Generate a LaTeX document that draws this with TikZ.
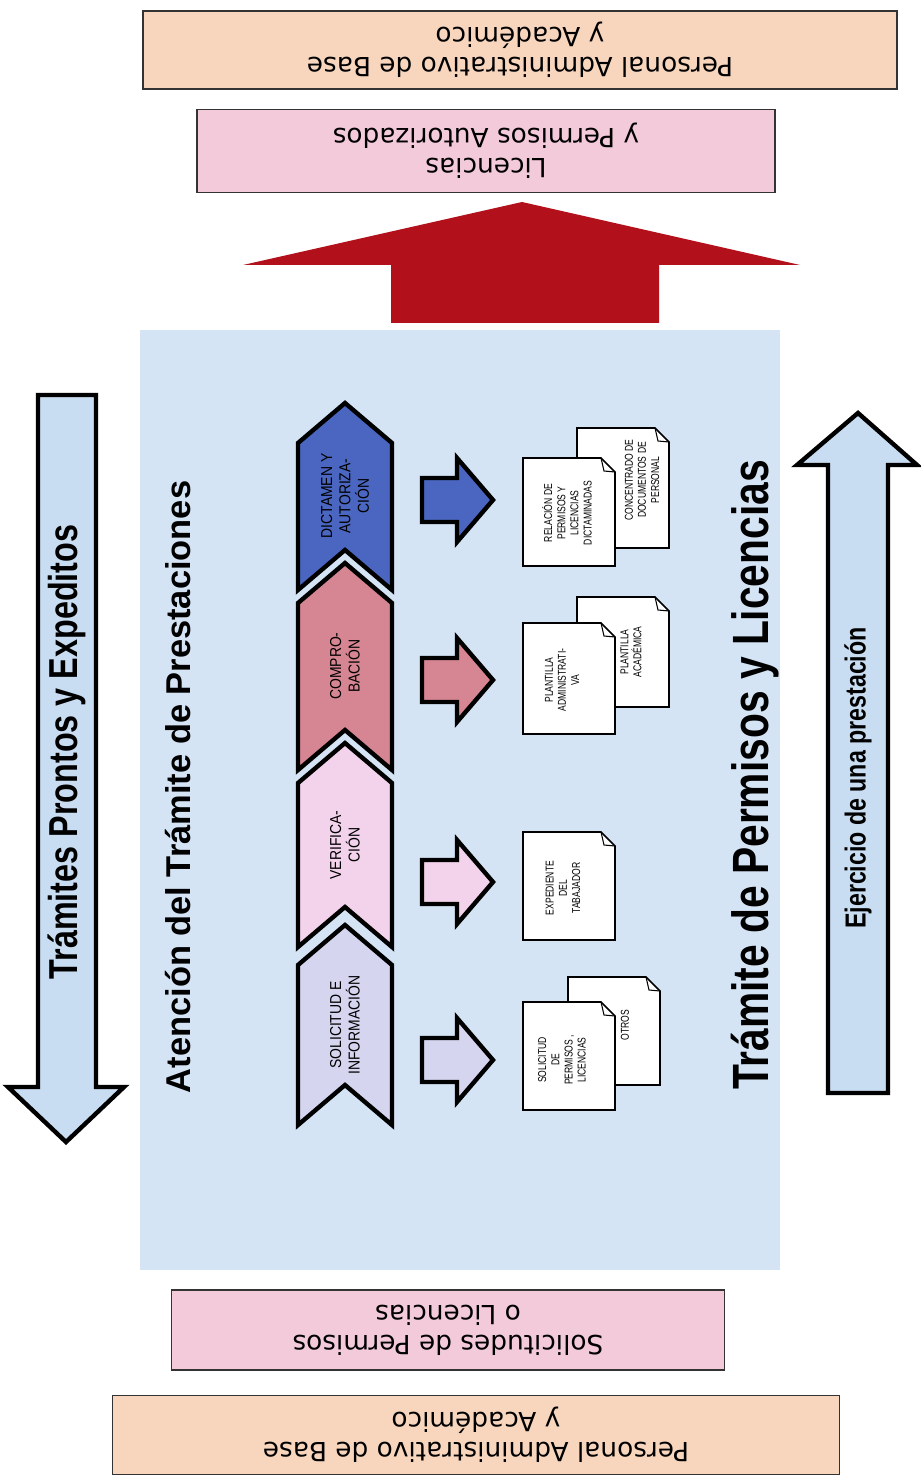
\documentclass[tikz,border=0pt]{standalone}
\usepackage{fontspec}
\setmainfont{Liberation Sans}
\newfontfamily\boxfont{DejaVu Sans}
\newfontfamily\narrowfont[FakeStretch=0.8]{Liberation Sans}
\newfontfamily\chevfont[FakeStretch=0.88]{Liberation Sans}
\newfontfamily\docfont[FakeStretch=0.75]{Liberation Sans}
\usepackage{tikz}
\usetikzlibrary {positioning}

\definecolor{peach}{RGB}{248,214,190}
\definecolor{rosebox}{RGB}{243,202,217}
\definecolor{panelblue}{RGB}{212,228,245}
\definecolor{arrowblue}{RGB}{200,221,242}
\definecolor{darkred}{RGB}{178,16,26}
\definecolor{dictblue}{RGB}{74,102,192}
\definecolor{comprose}{RGB}{214,133,147}
\definecolor{verifpink}{RGB}{243,210,235}
\definecolor{soliclav}{RGB}{214,213,240}

\tikzset{
	box/.style={draw=black!80,line width=0.8pt,align=center,rotate=180,
		font=\boxfont\fontsize{15}{17}\selectfont},
	chev/.style={draw=black,line width=2.5pt},
	blockarrow/.style={draw=black,line width=2.5pt},
	sidearrow/.style={draw=black,line width=2.5pt,fill=arrowblue},
	page/.style={draw=black,line width=0.9pt,fill=white},
	fold/.style={draw=black,line width=0.6pt},
	chevtext/.style={rotate=90,align=center,inner sep=0pt,
		font=\chevfont\fontsize{9}{10.5}\selectfont},
	doctext/.style={rotate=90,align=center,inner sep=0pt,
		font=\docfont\fontsize{6.5}{7.5}\selectfont},
}

\begin{document}
\begin{tikzpicture}[x=0.02cm,y=-0.02cm]
	
	\useasboundingbox (0,0) rectangle (920,1479);
	\fill[white] (0,0) rectangle (920,1479);
	
	% boxes at top and bottom
	\node[box,fill=peach,minimum width=15.08cm,minimum height=1.56cm] (perstop) at (520,50) {Personal Administrativo de Base\\y Académico};
	\node[box,fill=rosebox,minimum width=11.56cm,minimum height=1.66cm] (licaut) at (486,151) {Licencias\\y Permisos Autorizados};
	\node[box,fill=rosebox,minimum width=11.06cm,minimum height=1.6cm] (solper) at (448,1330) {Solicitudes de Permisos\\o Licencias};
	\node[box,fill=peach,minimum width=14.54cm,minimum height=1.58cm] (persbot) at (476,1435) {Personal Administrativo de Base\\y Académico};
	
	\fill[darkred] (391,323) -- (391,265) -- (243,265) -- (522,202) -- (800,265) -- (659,265) -- (659,323) -- cycle;
	
	\fill[panelblue] (140,330) rectangle (780,1270);
	
	% side arrows
	\path[sidearrow] (38,395) -- (96,395) -- (96,1087) -- (124,1087) -- (66,1142) -- (8,1087) -- (38,1087) -- cycle;
	\path[sidearrow] (828,1093) -- (828,465) -- (797,465) -- (858,413) -- (917,465) -- (888,465) -- (888,1093) -- cycle;
	\node[rotate=90,font=\narrowfont\bfseries\fontsize{23}{26}\selectfont] (prontos) at (67,752) {Trámites Prontos y Expeditos};
	\node[rotate=90,font=\narrowfont\bfseries\fontsize{16.5}{19}\selectfont] (ejercicio) at (858,778) {Ejercicio de una prestación};
	
	% titles
	\node[rotate=90,font=\bfseries\fontsize{19.6}{22}\selectfont] (atencion) at (178,787) {Atención del Trámite de Prestaciones};
	\node[rotate=90,font=\narrowfont\bfseries\fontsize{29}{32}\selectfont] (tramite) at (755,775) {Trámite de Permisos y Licencias};
	
	% chevrons
	\path[chev,fill=dictblue] (345,403) -- (392,443) -- (392,590) -- (345,550) -- (298,590) -- (298,443) -- cycle;
	\path[chev,fill=comprose] (345,563) -- (392,603) -- (392,770) -- (345,730) -- (298,770) -- (298,603) -- cycle;
	\path[chev,fill=verifpink] (345,743) -- (392,783) -- (392,947) -- (345,907) -- (298,947) -- (298,783) -- cycle;
	\path[chev,fill=soliclav] (345,925) -- (392,965) -- (392,1125) -- (345,1085) -- (298,1125) -- (298,965) -- cycle;
	
	\node[chevtext] (dictamen) at (345,496) {DICTAMEN Y\\AUTORIZA-\\CIÓN};
	\node[chevtext] (comprob) at (345,666) {COMPRO-\\BACIÓN};
	\node[chevtext] (verif) at (345,845) {VERIFICA-\\CIÓN};
	\node[chevtext] (solic) at (345,1025) {SOLICITUD E\\INFORMACIÓN};
	
	% block arrows
	\path[blockarrow,fill=dictblue] (422,478) -- (457,478) -- (457,458) -- (493,500) -- (457,542) -- (457,522) -- (422,522) -- cycle;
	\path[blockarrow,fill=comprose] (422,658) -- (457,658) -- (457,638) -- (493,680) -- (457,722) -- (457,702) -- (422,702) -- cycle;
	\path[blockarrow,fill=verifpink] (422,860) -- (457,860) -- (457,840) -- (493,882) -- (457,924) -- (457,904) -- (422,904) -- cycle;
	\path[blockarrow,fill=soliclav] (422,1038) -- (457,1038) -- (457,1018) -- (493,1060) -- (457,1102) -- (457,1082) -- (422,1082) -- cycle;
	
	% pages
	\path[page] (577,428) -- (655,428) -- (669,442) -- (669,548) -- (577,548) -- cycle;
	\path[fold] (655,428) -- (658,441) -- (669,442);
	\path[page] (523,458) -- (601,458) -- (615,472) -- (615,566) -- (523,566) -- cycle;
	\path[fold] (601,458) -- (604,471) -- (615,472);
	
	\path[page] (577,597) -- (655,597) -- (669,611) -- (669,707) -- (577,707) -- cycle;
	\path[fold] (655,597) -- (658,610) -- (669,611);
	\path[page] (523,623) -- (601,623) -- (615,637) -- (615,734) -- (523,734) -- cycle;
	\path[fold] (601,623) -- (604,636) -- (615,637);
	
	\path[page] (523,832) -- (601,832) -- (615,846) -- (615,940) -- (523,940) -- cycle;
	\path[fold] (601,832) -- (604,845) -- (615,846);
	
	\path[page] (568,977) -- (646,977) -- (660,991) -- (660,1085) -- (568,1085) -- cycle;
	\path[fold] (646,977) -- (649,990) -- (660,991);
	\path[page] (523,1002) -- (601,1002) -- (615,1016) -- (615,1110) -- (523,1110) -- cycle;
	\path[fold] (601,1002) -- (604,1015) -- (615,1016);
	
	\node[doctext] (concentrado) at (642,480) {CONCENTRADO DE\\DOCUMENTOS DE\\PERSONAL};
	\node[doctext] (relacion) at (567,513) {RELACIÓN DE\\PERMISOS Y\\LICENCIAS\\DICTAMINADAS};
	\node[doctext] (plantacad) at (631,652) {PLANTILLA\\ACADÉMICA};
	\node[doctext] (plantadmin) at (562,680) {PLANTILLA\\ADMINISTRATI-\\VA};
	\node[doctext] (expediente) at (563,888) {EXPEDIENTE\\DEL\\TABAJADOR};
	\node[doctext] (otros) at (625,1025) {OTROS};
	\node[doctext] (solicitud) at (562,1060) {SOLICITUD\\DE\\PERMISOS ,\\LICENCIAS};
	
\end{tikzpicture}
\end{document}
